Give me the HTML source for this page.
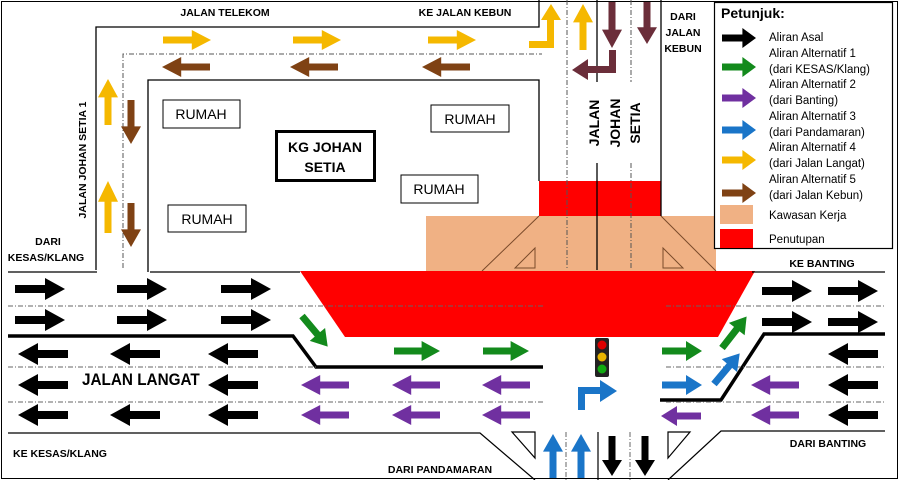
<!DOCTYPE html>
<html><head><meta charset="utf-8"><style>
html,body{margin:0;padding:0;background:#fff}
svg{display:block}
text{font-family:"Liberation Sans",sans-serif}
.b{font-weight:bold;font-size:10.5px}
</style></head><body>
<svg width="899" height="480" viewBox="0 0 899 480" xmlns="http://www.w3.org/2000/svg">
<defs>
<path id="ar" d="M0,-4 H30 V-11 L50,0 L30,11 V4 H0 Z"/>
<path id="as" d="M0,-3.5 H24 V-10 L40,0 L24,10 V3.5 H0 Z"/>
</defs>
<rect x="1.5" y="1.5" width="896" height="477" fill="none" stroke="#000" stroke-width="1"/>

<rect x="426" y="216" width="290" height="55" fill="#f0b184"/>
<rect x="539" y="181" width="122" height="35" fill="#f00"/>
<g stroke="#7a4a2a" stroke-width="1" fill="none">
<line x1="539" y1="216" x2="482" y2="271"/><line x1="661" y1="216" x2="716" y2="271"/>
<path d="M535,248 L515,268 H535 Z"/><path d="M663,248 L683,268 H663 Z"/>
</g>
<polygon points="300,271 755,271 718,337 345,337" fill="#f00"/>

<g stroke="#000" stroke-width="1.3" fill="none">
<path d="M96,270 V27 H539 V0"/>
<path d="M148,272 V80 H539 V181"/>
<line x1="661" y1="0" x2="661" y2="216"/>
<line x1="597" y1="0" x2="597" y2="82"/><line x1="597" y1="163" x2="597" y2="270"/>
</g>
<g stroke="#555" stroke-width="1" stroke-dasharray="5,2,1,2" fill="none">
<path d="M123,268 V54 H542"/>
<line x1="567" y1="0" x2="567" y2="270"/>
<line x1="631" y1="0" x2="631" y2="82"/><line x1="631" y1="163" x2="631" y2="270"/>
</g>

<g stroke="#000" stroke-width="1.2" fill="none">
<path d="M8,272 H97"/><path d="M150,272 H300"/><path d="M752,272 H885"/>
<path d="M8,433 H480 L535,480"/><path d="M885,431 H721 L668,480"/>
<path d="M512,432 H535 V458 Z"/><path d="M668,432 H690 L668,458 Z"/>
<line x1="598" y1="432" x2="598" y2="480"/>
</g>
<g stroke="#000" stroke-width="3.5" fill="none">
<path d="M8,336 H293 L316,367 H543"/>
<path d="M660,400 H721 L764,334 H885"/>
</g>
<g stroke="#666" stroke-width="1" stroke-dasharray="5,2,1,2" fill="none">
<line x1="8" y1="306" x2="545" y2="306"/><line x1="666" y1="306" x2="885" y2="306"/>
<line x1="8" y1="367" x2="316" y2="367"/><line x1="666" y1="367" x2="885" y2="367"/>
<line x1="8" y1="402" x2="543" y2="402"/><line x1="666" y1="402" x2="885" y2="402"/>
<line x1="566" y1="432" x2="566" y2="480"/><line x1="630" y1="432" x2="630" y2="480"/>
</g>

<g fill="#000">
<use href="#ar" transform="translate(15,289)"/><use href="#ar" transform="translate(117,289)"/><use href="#ar" transform="translate(221,289)"/>
<use href="#ar" transform="translate(15,320)"/><use href="#ar" transform="translate(117,320)"/><use href="#ar" transform="translate(221,320)"/>
<use href="#ar" transform="translate(762,291)"/><use href="#ar" transform="translate(828,291)"/>
<use href="#ar" transform="translate(762,322)"/><use href="#ar" transform="translate(828,322)"/>
<use href="#ar" transform="translate(68,354) rotate(180)"/><use href="#ar" transform="translate(160,354) rotate(180)"/><use href="#ar" transform="translate(258,354) rotate(180)"/>
<use href="#ar" transform="translate(68,385) rotate(180)"/><use href="#ar" transform="translate(258,385) rotate(180)"/>
<use href="#ar" transform="translate(68,415) rotate(180)"/><use href="#ar" transform="translate(160,415) rotate(180)"/><use href="#ar" transform="translate(258,415) rotate(180)"/>
<use href="#ar" transform="translate(878,354) rotate(180)"/><use href="#ar" transform="translate(878,385) rotate(180)"/><use href="#ar" transform="translate(878,415) rotate(180)"/>
<use href="#as" transform="translate(612,436) rotate(90)"/><use href="#as" transform="translate(645,436) rotate(90)"/>
</g>
<g fill="#7030a0">
<use href="#as" transform="translate(349,385) rotate(180) scale(1.2,1)"/><use href="#as" transform="translate(440,385) rotate(180) scale(1.2,1)"/><use href="#as" transform="translate(530,385) rotate(180) scale(1.2,1)"/>
<use href="#as" transform="translate(349,415) rotate(180) scale(1.2,1)"/><use href="#as" transform="translate(440,415) rotate(180) scale(1.2,1)"/><use href="#as" transform="translate(530,415) rotate(180) scale(1.2,1)"/>
<use href="#as" transform="translate(701,416) rotate(180)"/>
<use href="#as" transform="translate(799,385) rotate(180) scale(1.2,1)"/><use href="#as" transform="translate(799,415) rotate(180) scale(1.2,1)"/>
</g>
<g fill="#138a1c">
<use href="#as" transform="translate(394,351) scale(1.15,1)"/><use href="#as" transform="translate(483,351) scale(1.15,1)"/>
<use href="#as" transform="translate(662,351)"/>
<use href="#as" transform="translate(302,316) rotate(50)"/>
<use href="#as" transform="translate(722,348) rotate(-52)"/>
</g>
<g fill="#1a75c8">
<use href="#as" transform="translate(662,385)"/>
<use href="#as" transform="translate(714,384) rotate(-50)"/>
<use href="#as" transform="translate(553,478) rotate(-90) scale(1.1,1)"/><use href="#as" transform="translate(581,478) rotate(-90) scale(1.1,1)"/>
<path d="M578,410 V387 H600 V380 L617,391 L600,402 V394 H585 V410 Z"/>
</g>
<rect x="595" y="338" width="14" height="39" rx="2" fill="#222"/>
<circle cx="602" cy="345" r="4.5" fill="#d00"/><circle cx="602" cy="357" r="4.5" fill="#e8b400"/><circle cx="602" cy="369" r="4.5" fill="#1a1"/>

<g fill="#f5b800">
<use href="#as" transform="translate(163,40) scale(1.2,1)"/><use href="#as" transform="translate(293,40) scale(1.2,1)"/><use href="#as" transform="translate(428,40) scale(1.2,1)"/>
<use href="#as" transform="translate(108,125) rotate(-90) scale(1.15,1)"/><use href="#as" transform="translate(108,233) rotate(-90) scale(1.3,1)"/>
<use href="#as" transform="translate(583,50) rotate(-90) scale(1.15,1)"/>
<path d="M529,48 V41 H547 V20 H541 L551,4 L561,20 H554 V48 Z"/>
</g>
<g fill="#7f4214">
<use href="#as" transform="translate(210,67) rotate(180) scale(1.2,1)"/><use href="#as" transform="translate(338,67) rotate(180) scale(1.2,1)"/><use href="#as" transform="translate(470,67) rotate(180) scale(1.2,1)"/>
<use href="#as" transform="translate(131,100) rotate(90) scale(1.1,1)"/><use href="#as" transform="translate(131,203) rotate(90) scale(1.1,1)"/>
</g>
<g fill="#6b2e3a">
<use href="#as" transform="translate(612,2) rotate(90) scale(1.15,1)"/><use href="#as" transform="translate(647,2) rotate(90) scale(1.05,1)"/>
<path d="M616,50 H609 V66 H588 V59 L572,70 L588,80 V73 H616 Z"/>
</g>

<g fill="none" stroke="#000" stroke-width="1">
<rect x="163" y="100" width="77" height="28"/><rect x="168" y="205" width="78" height="27"/>
<rect x="431" y="105" width="78" height="27"/><rect x="401" y="175" width="77" height="28"/>
</g>
<rect x="276.5" y="131.5" width="98" height="49" fill="none" stroke="#000" stroke-width="3"/>
<g font-size="14">
<text x="201" y="119" text-anchor="middle">RUMAH</text><text x="207" y="224" text-anchor="middle">RUMAH</text>
<text x="470" y="124" text-anchor="middle">RUMAH</text><text x="439" y="194" text-anchor="middle">RUMAH</text>
</g>
<g font-size="14" font-weight="bold" text-anchor="middle">
<text x="325" y="152">KG JOHAN</text><text x="325" y="172">SETIA</text>
<text transform="translate(599,123) rotate(-90)" text-anchor="middle">JALAN</text>
<text transform="translate(620,123) rotate(-90)" text-anchor="middle">JOHAN</text>
<text transform="translate(640,123) rotate(-90)" text-anchor="middle">SETIA</text>
</g>
<text x="82" y="385" font-size="17" font-weight="bold" transform="translate(82,385) scale(0.9,1) translate(-82,-385)">JALAN LANGAT</text>

<g class="b" text-anchor="middle">
<text x="225" y="16">JALAN TELEKOM</text><text x="465" y="16">KE JALAN KEBUN</text>
<text x="683" y="20">DARI</text><text x="683" y="36">JALAN</text><text x="683" y="52">KEBUN</text>
<text transform="translate(86,160) rotate(-90)">JALAN JOHAN SETIA 1</text>
<text x="48" y="245">DARI</text><text x="46" y="261">KESAS/KLANG</text>
<text x="822" y="267">KE BANTING</text><text x="828" y="447">DARI BANTING</text>
<text x="60" y="457">KE KESAS/KLANG</text><text x="440" y="473">DARI PANDAMARAN</text>
</g>

<rect x="714.5" y="2.5" width="178" height="246" fill="#fff" stroke="#000" stroke-width="1.2"/>
<text x="721" y="18" font-size="14" font-weight="bold">Petunjuk:</text>
<use href="#as" fill="#000" transform="translate(722,38) scale(0.85,1)"/>
<use href="#as" fill="#138a1c" transform="translate(722,67) scale(0.85,1)"/>
<use href="#as" fill="#7030a0" transform="translate(722,98) scale(0.85,1)"/>
<use href="#as" fill="#1a75c8" transform="translate(722,130) scale(0.85,1)"/>
<use href="#as" fill="#f5b800" transform="translate(722,160) scale(0.85,1)"/>
<use href="#as" fill="#7f4214" transform="translate(722,193) scale(0.85,1)"/>
<rect x="720" y="205" width="33" height="19" fill="#f0b184"/>
<rect x="720" y="229" width="33" height="19" fill="#f00"/>
<g font-size="11.5">
<text x="769" y="41">Aliran Asal</text>
<text x="769" y="57">Aliran Alternatif 1</text><text x="769" y="73">(dari KESAS/Klang)</text>
<text x="769" y="88">Aliran Alternatif 2</text><text x="769" y="104">(dari Banting)</text>
<text x="769" y="120">Aliran Alternatif 3</text><text x="769" y="136">(dari Pandamaran)</text>
<text x="769" y="151">Aliran Alternatif 4</text><text x="769" y="167">(dari Jalan Langat)</text>
<text x="769" y="183">Aliran Alternatif 5</text><text x="769" y="199">(dari Jalan Kebun)</text>
<text x="769" y="219">Kawasan Kerja</text><text x="769" y="243">Penutupan</text>
</g>
</svg>
</body></html>
